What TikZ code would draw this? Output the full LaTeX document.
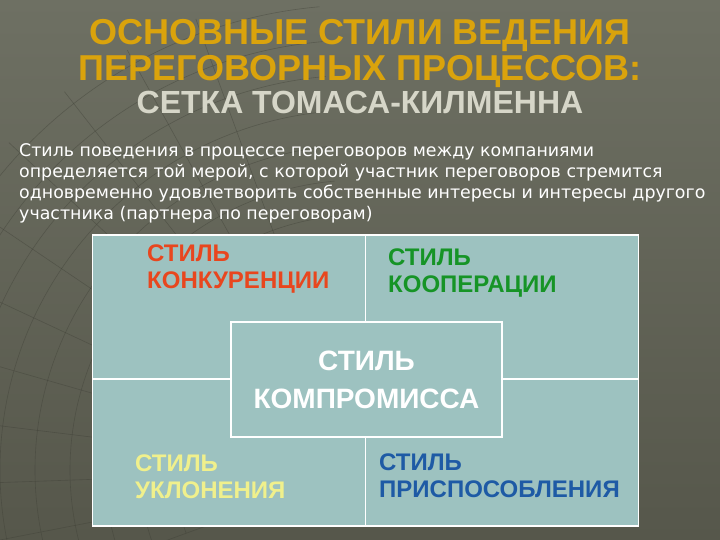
\documentclass[tikz,border=0pt]{standalone}
\usepackage{fontspec}
\setmainfont{Liberation Sans}
\newfontfamily\parafont{DejaVu Sans}
\usepackage{tikz}
\usetikzlibrary{
    calc,
    positioning,
}
\definecolor{SlideTop}{RGB}{110,112,99}
\definecolor{SlideBottom}{RGB}{86,87,75}
\definecolor{GlobeLine}{RGB}{60,61,52}
\definecolor{TitleGold}{RGB}{218,163,12}
\definecolor{SubGray}{RGB}{214,214,200}
\definecolor{CellTeal}{RGB}{157,194,192}
\definecolor{StyleRed}{RGB}{232,70,30}
\definecolor{StyleGreen}{RGB}{22,148,38}
\definecolor{StyleYellow}{RGB}{240,240,140}
\definecolor{StyleBlue}{RGB}{30,90,165}
\tikzstyle{globe}=[draw=GlobeLine,line width=0.6pt,opacity=0.4]
\tikzstyle{cell}=[draw=white,line width=1.6pt,fill=CellTeal,rectangle,inner sep=0pt,outer sep=0pt,minimum width=273pt,anchor=north west]
\tikzstyle{stylelabel}=[anchor=north west,inner sep=0pt,align=left,font=\bfseries\fontsize{24}{27}\selectfont]
\tikzstyle{centerbox}=[draw=white,line width=1.6pt,fill=CellTeal,rectangle,inner sep=0pt,minimum width=271pt,minimum height=115pt,align=center,text=white,font=\bfseries\fontsize{28}{38}\selectfont]

\begin{document}
\begin{tikzpicture}[x=1pt,y=-1pt]
    % Slide
    \fill[top color=SlideTop,bottom color=SlideBottom] (0,0) rectangle (720,540);
    \useasboundingbox (0,0) rectangle (720,540);
    \begin{scope}
        \clip (0,0) rectangle (720,540);
        \coordinate (pole) at (360,470);
        \foreach \r in {150,185,...,470}
            \draw[globe] ($(pole)+(160:\r)$) arc[start angle=160,end angle=265,radius=\r];
        \foreach \a in {160,169,...,256}
            \draw[globe] ($(pole)+(\a:130)$) -- ($(pole)+(\a:480)$);
    \end{scope}

    % Headings
    \node[inner sep=0pt,align=center,text=TitleGold,font=\bfseries\fontsize{36}{36}\selectfont] (title) at (360,53.5)
        {ОСНОВНЫЕ СТИЛИ ВЕДЕНИЯ\\ПЕРЕГОВОРНЫХ ПРОЦЕССОВ:};
    \node[inner sep=0pt,text=SubGray,font=\bfseries\fontsize{32}{34}\selectfont,below=3pt of title] (subtitle)
        {СЕТКА ТОМАСА-КИЛМЕННА};
    \node[anchor=north west,inner sep=0pt,align=left,text=white,font=\parafont\fontsize{17.4}{21}\selectfont] (intro) at (19,143)
        {Стиль поведения в процессе переговоров между компаниями\\
         определяется той мерой, с которой участник переговоров стремится\\
         одновременно удовлетворить собственные интересы и интересы другого\\
         участника (партнера по переговорам)};

    % Grid
    \node[cell,minimum height=144pt] (cellTL) at (92.5,235) {};
    \node[cell,minimum height=144pt] (cellTR) at (365.5,235) {};
    \node[cell,minimum height=147pt] (cellBL) at (92.5,379) {};
    \node[cell,minimum height=147pt] (cellBR) at (365.5,379) {};
    \node[centerbox] (compromise) at (366.5,379.5) {СТИЛЬ\\КОМПРОМИССА};

    \node[stylelabel,text=StyleRed] (competition) at (147,245) {СТИЛЬ\\КОНКУРЕНЦИИ};
    \node[stylelabel,text=StyleGreen] (cooperation) at (388,249) {СТИЛЬ\\КООПЕРАЦИИ};
    \node[stylelabel,text=StyleYellow] (avoidance) at (135,455) {СТИЛЬ\\УКЛОНЕНИЯ};
    \node[stylelabel,text=StyleBlue] (accommodation) at (379,454) {СТИЛЬ\\ПРИСПОСОБЛЕНИЯ};
\end{tikzpicture}
\end{document}
